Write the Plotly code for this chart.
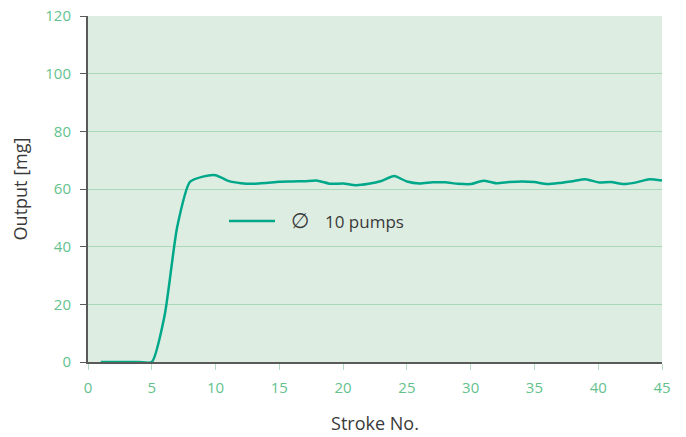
import plotly.graph_objects as go

strokes = list(range(1, 46))
output_mg = [0, 0, 0, 0, 0, 16, 47, 62.5, 64.3, 64.8,
             62.8, 62.0, 61.8, 62.1, 62.5, 62.6, 62.7, 62.9, 61.8, 61.9,
             61.3, 61.8, 62.8, 64.5, 62.6, 61.9, 62.3, 62.3, 61.8, 61.7,
             62.9, 62.0, 62.4, 62.6, 62.4, 61.7, 62.1, 62.7, 63.4, 62.3,
             62.4, 61.7, 62.3, 63.4, 62.9]
series_name = "10 pumps"
legend_symbol = "\u2205"
x_ticks = [0, 5, 10, 15, 20, 25, 30, 35, 40, 45]
y_ticks = [0, 20, 40, 60, 80, 100, 120]

FONT = "Open Sans"
TICK_COLOR = "#63c28c"
LINE_COLOR = "#00a88a"
TEXT_COLOR = "#3a3a3a"

fig = go.Figure()
fig.add_trace(go.Scatter(
    x=strokes, y=output_mg, mode="lines", name=series_name, showlegend=False,
    line=dict(color=LINE_COLOR, width=2.5, shape="spline", smoothing=0.6),
))

# legend drawn inside the plot (line sample, diameter sign, label)
fig.add_shape(type="line", xref="paper", yref="paper",
              x0=0.2456, x1=0.3258, y0=0.4075, y1=0.4075,
              line=dict(color=LINE_COLOR, width=2.5))
fig.add_annotation(xref="paper", yref="paper", x=0.3693, y=0.4075,
                   text=legend_symbol, showarrow=False, xanchor="center", yanchor="middle",
                   font=dict(family="DejaVu Sans", size=21, color=TEXT_COLOR))
fig.add_annotation(xref="paper", yref="paper", x=0.4095, y=0.4075,
                   text=series_name, showarrow=False, xanchor="left", yanchor="middle",
                   font=dict(family=FONT, size=17, color=TEXT_COLOR))

fig.update_layout(
    width=686, height=437,
    margin=dict(l=88, r=24, t=16, b=75, autoexpand=False),
    paper_bgcolor="white", plot_bgcolor="#deede2",
    font=dict(family=FONT, size=15, color=TEXT_COLOR),
    xaxis=dict(range=[0, 45], tickvals=x_ticks, showgrid=False, zeroline=False,
               automargin=False,
               showline=True, linecolor="#5a5a5a", linewidth=2,
               ticks="outside", ticklen=6, tickcolor="#b3dcc3", tickwidth=1,
               ticklabelstandoff=5,
               tickfont=dict(color=TICK_COLOR, size=15),
               title=dict(text="Stroke No.", font=dict(size=18, color=TEXT_COLOR), standoff=21)),
    yaxis=dict(range=[0, 120], tickvals=y_ticks, showgrid=True, gridcolor="#aad8bb",
               gridwidth=1, zeroline=False, automargin=False,
               showline=True, linecolor="#5a5a5a", linewidth=2,
               ticks="outside", ticklen=6, tickcolor="#5a5a5a", tickwidth=1,
               ticklabelstandoff=6,
               tickfont=dict(color=TICK_COLOR, size=15),
               title=dict(text="Output [mg]", font=dict(size=18, color=TEXT_COLOR), standoff=13)),
)

fig.write_html("out.html", config={"displayModeBar": False},
               post_script="document.body.style.margin='0px';")
